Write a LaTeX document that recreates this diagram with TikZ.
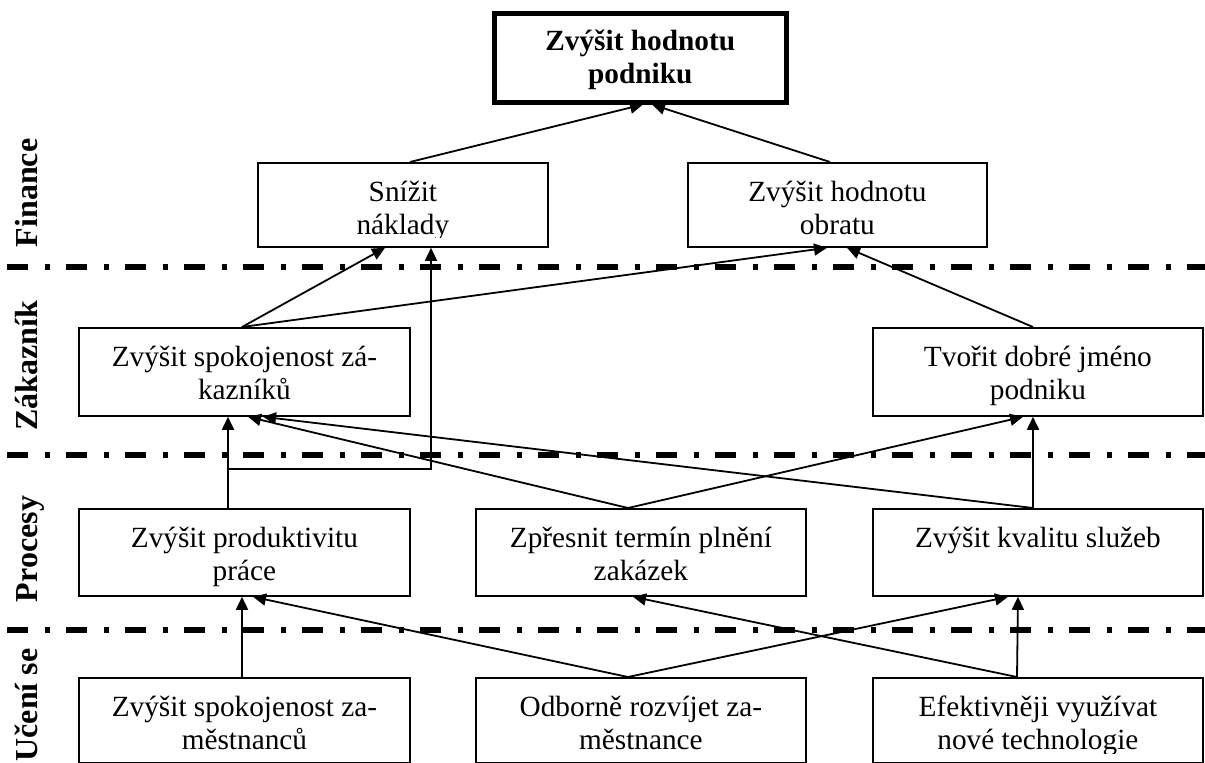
\documentclass[tikz,border=0pt]{standalone}
\usepackage{fontspec}
\setmainfont{Liberation Serif}
\usetikzlibrary{calc,arrows.meta}
\setlength{\tabcolsep}{0pt}
\newcommand\btext[3][]{%
  \begin{scope}
    \clip ($(#2.north west)$) rectangle ($(#2.south east)+(0,-10)$);
    \node[txt,#1] (#2t) at ($(#2.north)+(0,39)$) {\begin{tabular}[t]{c}#3\end{tabular}};
  \end{scope}}
\begin{document}
\begin{tikzpicture}[x=1pt,y=-1pt,
  box/.style={draw, line width=1.8pt, anchor=north west, inner sep=0pt},
  txt/.style={anchor=base, inner sep=0pt, font=\fontsize{29.3}{33}\selectfont},
  lab/.style={rotate=90, anchor=base, inner sep=0pt, font=\fontsize{32}{36}\selectfont\bfseries},
  sep/.style={line width=5.5pt, dash pattern=on 21pt off 17pt on 5pt off 16pt},
  arr/.style={line width=1.8pt, -{Triangle[length=13pt,width=12pt]}},
]
\useasboundingbox (0,0) rectangle (1205,763);

% separators
\coordinate (s1a) at (7,267);  \coordinate (s1b) at (1205,267);
\coordinate (s2a) at (7,455);  \coordinate (s2b) at (1205,455);
\coordinate (s3a) at (7,630);  \coordinate (s3b) at (1205,630);
\draw[sep] (s1a) -- (s1b);
\draw[sep] (s2a) -- (s2b);
\draw[sep] (s3a) -- (s3b);

% boxes
\node[box, line width=4.5pt, minimum width=292pt, minimum height=89pt] (top) at (492,11) {};
\node[box, minimum width=290pt, minimum height=84pt] (sniz) at (257,162) {};
\node[box, minimum width=299pt, minimum height=84pt] (obr) at (687,162) {};
\node[box, minimum width=331pt, minimum height=88pt] (zak) at (78,327) {};
\node[box, minimum width=330pt, minimum height=88pt] (tvo) at (872,327) {};
\node[box, minimum width=331pt, minimum height=87pt] (prod) at (78,508) {};
\node[box, minimum width=330pt, minimum height=87pt] (zpr) at (475,508) {};
\node[box, minimum width=330pt, minimum height=87pt] (kval) at (872,508) {};
\node[box, minimum width=331pt, minimum height=85pt] (zam) at (78,677) {};
\node[box, minimum width=330pt, minimum height=85pt] (odb) at (475,677) {};
\node[box, minimum width=330pt, minimum height=85pt] (efe) at (872,677) {};

% texts
\btext[font=\fontsize{29.3}{33}\selectfont\bfseries]{top}{Zvýšit hodnotu\\podniku}
\btext{sniz}{Snížit\\náklady}
\btext{obr}{Zvýšit hodnotu\\obratu}
\btext{zak}{Zvýšit spokojenost zá-\\kazníků}
\btext{tvo}{Tvořit dobré jméno\\podniku}
\btext{prod}{Zvýšit produktivitu\\práce}
\btext{zpr}{Zpřesnit termín plnění\\zakázek}
\btext{kval}{Zvýšit kvalitu služeb}
\btext{zam}{Zvýšit spokojenost za-\\městnanců}
\btext{odb}{Odborně rozvíjet za-\\městnance}
\btext{efe}{Efektivněji využívat\\nové technologie}

% row labels
\node[lab] (lfin) at (37,193) {Finance};
\node[lab] (lzak) at (37,366) {Zákazník};
\node[lab] (lpro) at (37,549) {Procesy};
\node[lab] (luce) at (37,705) {Učení se};

% connectors
\draw[arr] ($(sniz.north west)+(153,0)$) -- ($(top.south west)+(151,0)$);
\draw[arr] ($(obr.north west)+(143,0)$) -- ($(top.south west)+(160,0)$);
\draw[arr] ($(zak.north west)+(164,0)$) -- ($(sniz.south west)+(128,0)$);
\draw[arr] ($(zak.north west)+(164,0)$) -- ($(obr.south west)+(140,0)$);
\draw[arr] ($(tvo.north west)+(161,0)$) -- ($(obr.south west)+(160,0)$);
\draw[arr] ($(prod.north west)+(150,0)$) -- ($(zak.south west)+(150,0)$);
\draw[arr] ($(prod.north west)+(150,0)$) -- ++(0,-39) -| ($(sniz.south west)+(174,0)$);
\draw[arr] ($(zpr.north west)+(153,0)$) -- ($(zak.south west)+(170,0)$);
\draw[arr] ($(kval.north west)+(161,0)$) -- ($(zak.south west)+(185,0)$);
\draw[arr] ($(zpr.north west)+(153,0)$) -- ($(tvo.south west)+(151,0)$);
\draw[arr] ($(kval.north west)+(161,0)$) -- ($(tvo.south west)+(161,0)$);
\draw[arr] ($(zam.north west)+(164,0)$) -- ($(prod.south west)+(164,0)$);
\draw[arr] ($(odb.north west)+(153,0)$) -- ($(prod.south west)+(175,0)$);
\draw[arr] ($(odb.north west)+(153,0)$) -- ($(kval.south west)+(136,0)$);
\draw[arr] ($(efe.north west)+(145,0)$) -- ($(kval.south west)+(146,0)$);
\draw[arr] ($(efe.north west)+(145,0)$) -- ($(zpr.south west)+(158,0)$);
\end{tikzpicture}
\end{document}
